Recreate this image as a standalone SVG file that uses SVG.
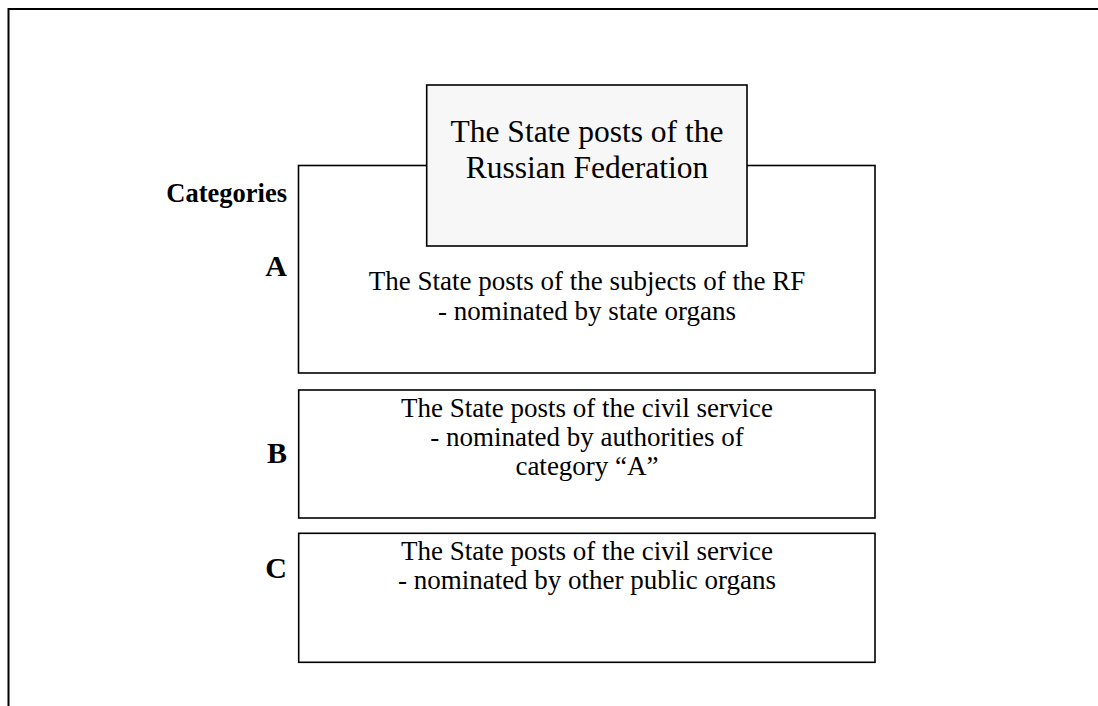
<svg xmlns="http://www.w3.org/2000/svg" width="1098" height="706" viewBox="0 0 1098 706">
  <style>
    .frame { fill: none; stroke: #000; stroke-width: 2; }
    .box { fill: #fff; stroke: #000; stroke-width: 1.6; }
    .title-box { fill: #f7f7f7; stroke: #000; stroke-width: 1.6; }
    .body { font-family: "Liberation Serif", "Times New Roman", serif; font-size: 27px; fill: #000; text-anchor: middle; }
    .title { font-family: "Liberation Serif", "Times New Roman", serif; font-size: 31.5px; fill: #000; text-anchor: middle; }
    .cat { font-family: "Liberation Serif", "Times New Roman", serif; font-weight: bold; fill: #000; text-anchor: end; }
  </style>

  <rect width="1098" height="706" fill="#fff"/>

  <!-- page frame: top and left edges -->
  <path class="frame" d="M8.5 706 V9 H1098"/>

  <!-- category labels -->
  <g id="labels">
    <text class="cat" x="287" y="202" font-size="26.5">Categories</text>
    <text class="cat" x="287" y="276" font-size="30">A</text>
    <text class="cat" x="287" y="463" font-size="30">B</text>
    <text class="cat" x="287" y="578" font-size="30">C</text>
  </g>

  <!-- category A -->
  <g id="node-a">
    <rect class="box" x="298.5" y="165.5" width="576.5" height="207.5"/>
    <text class="body" x="587" y="290">The State posts of the subjects of the RF</text>
    <text class="body" x="587" y="319.5">- nominated by state organs</text>
  </g>

  <!-- heading box overlapping the top of category A -->
  <g id="node-title">
    <rect class="title-box" x="426.7" y="85" width="320.3" height="161"/>
    <text class="title" x="587" y="142">The State posts of the</text>
    <text class="title" x="587" y="178">Russian Federation</text>
  </g>

  <!-- category B -->
  <g id="node-b">
    <rect class="box" x="298.7" y="390" width="576.3" height="128"/>
    <text class="body" x="587" y="417">The State posts of the civil service</text>
    <text class="body" x="587" y="446">- nominated by authorities of</text>
    <text class="body" x="587" y="475">category “A”</text>
  </g>

  <!-- category C -->
  <g id="node-c">
    <rect class="box" x="298.7" y="533.3" width="576.3" height="129"/>
    <text class="body" x="587" y="560">The State posts of the civil service</text>
    <text class="body" x="587" y="589">- nominated by other public organs</text>
  </g>

  <g id="connectors"/>
</svg>
